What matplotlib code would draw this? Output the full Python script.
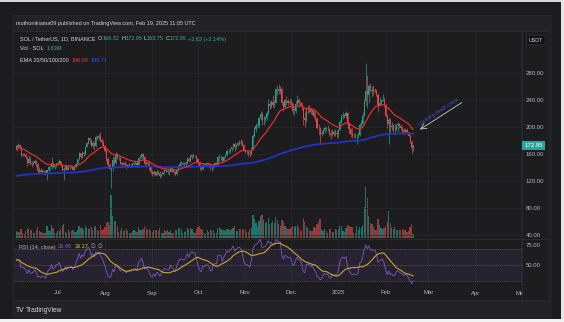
import matplotlib
matplotlib.use("Agg")
import matplotlib.pyplot as plt
from matplotlib.patches import Rectangle
from matplotlib.lines import Line2D
import numpy as np
import pandas as pd

plt.rcParams['font.family'] = ['Liberation Sans Narrow', 'Liberation Sans', 'DejaVu Sans']

# SOL/USDT daily candles (Binance), 4 Jun 2024 .. 19 Feb 2025
start_date = '2024-06-04'
first_open = 166
close = [
    # Jun
    172, 173, 171, 159, 160, 159, 155, 147, 153, 146, 145, 147, 150, 145, 135, 136, 133, 135, 133, 130,
    136, 140, 141, 147, 140, 142, 146,
    # Jul
    146, 149, 143, 136, 138, 142, 137, 141, 140, 141, 137, 140, 145, 152, 161, 155, 162, 160, 171, 176,
    183, 180, 172, 177, 172, 185, 184, 186, 181, 178, 172,
    # Aug
    165, 153, 143, 138, 140, 151, 146, 160, 154, 154, 145, 147, 146, 144, 141, 143, 144, 143, 145, 146,
    146, 144, 154, 156, 160, 155, 145, 147, 145, 140, 133,
    # Sep
    130, 134, 129, 134, 132, 127, 130, 133, 136, 135, 134, 134, 139, 136, 134, 131, 136, 142, 145, 146,
    145, 145, 147, 153, 150, 156, 158, 157, 157, 152,
    # Oct
    146, 140, 138, 144, 143, 145, 145, 144, 139, 139, 144, 146, 145, 155, 155, 155, 150, 156, 159, 165,
    164, 167, 170, 175, 171, 174, 177, 178, 177, 174, 166,
    # Nov
    163, 163, 162, 160, 168, 187, 197, 201, 203, 213, 219, 210, 211, 213, 220, 234, 231, 237, 233, 236,
    256, 256, 253, 256, 236, 230, 240, 239, 236, 237,
    # Dec
    235, 224, 224, 234, 240, 236, 235, 229, 213, 210, 226, 227, 226, 222, 224, 216, 212, 199, 198, 190,
    191, 196, 199, 197, 197, 190, 188, 193, 189, 191, 189,
    # Jan
    196, 208, 216, 218, 216, 220, 204, 197, 190, 186, 187, 186, 186, 188, 203, 204, 216, 238, 254, 248,
    261, 255, 253, 255, 254, 248, 233, 236, 239, 240, 233,
    # Feb
    217, 204, 211, 200, 202, 195, 196, 203, 204, 201, 199, 196, 193, 195, 192, 187, 178, 169.32, 172.95,
]
high = [
    174, 176, 175, 172, 162, 162, 161, 156, 158, 155, 149, 150, 152, 151, 146, 140, 139, 138, 137, 136,
    137, 142, 143, 155, 148, 143, 147,
    149, 152, 150, 144, 140, 144, 142, 143, 142, 144, 142, 141, 146, 153, 163, 162, 164, 164, 172, 178,
    184, 185, 181, 179, 178, 186, 188, 190, 193, 183, 180,
    174, 167, 155, 147, 141, 157, 155, 163, 162, 157, 156, 150, 148, 149, 146, 145, 146, 146, 147, 148,
    150, 149, 156, 158, 162, 161, 157, 150, 150, 148, 141,
    136, 136, 135, 136, 137, 135, 132, 134, 137, 138, 139, 136, 141, 141, 137, 135, 138, 144, 149, 150,
    148, 148, 149, 155, 156, 158, 160, 160, 158, 158,
    154, 149, 143, 145, 145, 146, 148, 148, 145, 142, 145, 148, 147, 157, 160, 158, 156, 157, 160, 167,
    168, 169, 171, 177, 178, 175, 178, 181, 182, 180, 175,
    168, 165, 166, 164, 171, 190, 200, 206, 207, 215, 224, 222, 216, 217, 224, 241, 238, 240, 247, 240,
    258, 262, 264, 260, 259, 239, 242, 246, 242, 243,
    242, 236, 230, 238, 247, 243, 239, 237, 230, 222, 228, 232, 233, 229, 226, 226, 222, 215, 205, 200,
    196, 198, 201, 200, 203, 198, 196, 197, 196, 197, 196,
    197, 210, 218, 222, 219, 223, 222, 207, 199, 198, 191, 191, 190, 193, 206, 210, 222, 242, 295, 277,
    263, 265, 260, 262, 258, 257, 250, 245, 242, 249, 245,
    236, 219, 214, 214, 207, 204, 205, 205, 207, 206, 204, 202, 199, 198, 198, 193, 189, 180, 172.95,
]
low = [
    164, 169, 168, 155, 157, 157, 153, 142, 146, 144, 140, 143, 145, 140, 130, 132, 131, 131, 132, 129,
    122, 134, 137, 138, 139, 138, 140,
    143, 145, 141, 135, 122, 136, 136, 136, 138, 139, 136, 136, 139, 144, 151, 152, 154, 157, 158, 170,
    175, 175, 170, 169, 166, 171, 180, 180, 178, 174, 170,
    163, 150, 140, 136, 110, 135, 142, 145, 152, 151, 144, 141, 143, 140, 138, 140, 141, 140, 141, 143,
    143, 141, 143, 152, 153, 152, 144, 140, 142, 136, 131,
    128, 129, 128, 128, 131, 124, 126, 129, 130, 133, 131, 129, 133, 134, 131, 128, 129, 135, 140, 142,
    143, 141, 141, 145, 148, 148, 153, 154, 155, 148,
    141, 137, 135, 136, 141, 142, 143, 141, 137, 135, 138, 142, 143, 144, 150, 151, 148, 149, 154, 157,
    161, 162, 164, 168, 165, 167, 172, 174, 174, 172, 164,
    162, 160, 157, 155, 158, 166, 185, 193, 199, 200, 210, 203, 203, 207, 210, 218, 226, 228, 230, 228,
    235, 247, 249, 249, 233, 223, 228, 233, 232, 233,
    232, 219, 218, 221, 232, 230, 233, 225, 203, 200, 208, 220, 220, 219, 218, 214, 209, 197, 188, 175,
    186, 189, 191, 194, 194, 186, 182, 187, 186, 187, 184,
    185, 195, 206, 212, 213, 213, 200, 190, 185, 183, 183, 183, 175, 184, 186, 198, 203, 216, 233, 228,
    236, 252, 245, 248, 250, 246, 222, 231, 232, 238, 230,
    215, 198, 175, 193, 195, 193, 190, 195, 193, 198, 195, 189, 189, 191, 190, 186, 176, 162, 163.75,
]
# volume in millions of SOL
volume = [
    2.6, 2.4, 2.3, 3.5, 1.8, 1.6, 2.5, 3.6, 3.2, 2.8, 2.9, 1.7, 1.8, 3.0, 4.2, 2.6, 2.3, 1.9, 1.7, 2.0,
    4.5, 2.9, 2.6, 4.8, 3.9, 1.8, 2.0,
    2.7, 2.5, 3.4, 4.3, 5.2, 2.4, 2.0, 3.1, 2.4, 2.6, 2.8, 2.4, 2.1, 3.0, 4.6, 3.9, 3.6, 3.0, 4.5, 3.7,
    3.3, 3.8, 4.0, 3.1, 4.2, 4.4, 2.9, 2.7, 4.8, 3.1, 3.4,
    4.2, 5.5, 5.8, 5.0, 16.0, 8.0, 6.2, 6.5, 4.4, 2.3, 2.7, 3.6, 2.5, 2.8, 3.4, 2.6, 1.7, 1.8, 2.6, 3.0,
    2.5, 2.4, 4.1, 3.0, 2.9, 3.2, 4.6, 3.9, 2.8, 3.3, 2.6,
    2.4, 3.0, 2.8, 3.0, 2.7, 3.8, 1.8, 2.0, 2.9, 2.6, 2.8, 2.3, 3.0, 2.0, 1.9, 2.8, 3.0, 3.6, 3.9, 3.2,
    2.0, 2.1, 2.6, 3.7, 3.4, 3.9, 3.5, 2.3, 1.9, 3.3,
    4.1, 4.3, 3.5, 2.9, 1.7, 1.6, 2.8, 2.4, 2.9, 3.1, 3.0, 1.8, 1.7, 3.9, 4.0, 3.3, 2.9, 3.1, 2.6, 3.2,
    3.5, 3.1, 3.2, 3.9, 4.3, 2.6, 2.7, 3.5, 3.3, 3.0, 3.4,
    3.0, 2.2, 2.4, 3.3, 3.6, 8.5, 7.0, 5.6, 4.1, 6.4, 8.2, 8.6, 6.8, 5.6, 6.0, 7.5, 5.1, 5.6, 6.5, 5.4,
    7.9, 6.6, 5.3, 4.4, 6.8, 5.9, 4.6, 3.8, 3.5, 3.2,
    3.6, 4.6, 4.0, 4.4, 5.0, 4.1, 2.6, 2.8, 7.4, 6.0, 4.5, 3.6, 3.0, 2.6, 2.5, 4.0, 3.8, 5.3, 6.1, 7.0,
    3.4, 2.6, 3.2, 2.6, 2.0, 3.5, 3.4, 2.3, 2.1, 3.2, 2.8,
    3.2, 4.6, 4.3, 2.6, 2.3, 3.8, 5.0, 4.3, 4.1, 4.2, 2.0, 1.9, 4.5, 3.1, 4.2, 3.6, 5.0, 11.5, 19.0, 15.0,
    8.0, 5.5, 5.2, 4.2, 2.8, 3.1, 7.0, 4.8, 3.6, 3.5, 3.7,
    4.5, 6.0, 10.0, 5.6, 3.9, 3.4, 4.0, 2.8, 3.0, 3.1, 3.0, 3.3, 3.0, 2.8, 2.3, 2.6, 4.1, 5.2, 1.63,
]

# indicator starting values carried in from before the window
ema20_start = 168
ema200_start = 127
rsi_gain_start, rsi_loss_start = 3.0, 2.7

price_ticks = [40, 80, 120, 160, 200, 240, 280]
rsi_ticks = [50, 75]
month_dates = ['2024-07-01', '2024-08-01', '2024-09-01', '2024-10-01', '2024-11-01', '2024-12-01',
               '2025-01-01', '2025-02-01', '2025-03-01', '2025-04-01', '2025-05-01']
month_labels = ['Jul', 'Aug', 'Sep', 'Oct', 'Nov', 'Dec', '2025', 'Feb', 'Mar', 'Apr', 'May']

close = np.array(close, float)
high = np.array(high, float)
low = np.array(low, float)
volume = np.array(volume, float)
opens = np.r_[first_open, close[:-1]]
dates = pd.date_range(start_date, periods=len(close), freq='D')


def ema(values, n, seed):
    a = 2 / (n + 1)
    out, e = [], seed
    for v in values:
        e += a * (v - e)
        out.append(e)
    return np.array(out)


ema20 = ema(close, 20, ema20_start)
ema200 = ema(close, 200, ema200_start)

# Wilder RSI(14) + its 14-period SMA
g, l = rsi_gain_start, rsi_loss_start
rsi = []
for ch in close - opens:
    g = (g * 13 + max(ch, 0)) / 14
    l = (l * 13 + max(-ch, 0)) / 14
    rsi.append(100 - 100 / (1 + g / l))
rsi = np.array(rsi)
rsi_ma = pd.Series(rsi).rolling(14, min_periods=1).mean().values

UP, DOWN = '#22a08c', '#e54545'
VUP, VDOWN = '#1d746a', '#923939'
TXT = '#b2b5be'
GRID = '#27282b'

W, H = 564, 322
fig = plt.figure(figsize=(W / 100, H / 100), dpi=100)
fig.patch.set_facecolor('#1b1c1f')


def px(x0, y0, x1, y1):
    return [x0 / W, 1 - y1 / H, (x1 - x0) / W, (y1 - y0) / H]


def block(x0, y0, x1, y1, color):
    fig.add_artist(Rectangle((x0 / W, 1 - y1 / H), (x1 - x0) / W, (y1 - y0) / H,
                             transform=fig.transFigure, color=color, lw=0, zorder=-5))


def hline(x0, x1, y, color):
    fig.add_artist(Line2D([x0 / W, x1 / W], [1 - y / H] * 2, color=color, lw=0.6, zorder=-4))


def vline(x, y0, y1, color):
    fig.add_artist(Line2D([x / W] * 2, [1 - y0 / H, 1 - y1 / H], color=color, lw=0.6, zorder=-4))


block(12, 15, 552, 319, '#222326')
block(14, 31, 548, 300, '#1d1d1f')
block(0, 0, 564, 2, '#d8d8d8')
block(561, 0, 564, 322, '#e6e6e6')
block(0, 319, 564, 322, '#f2f2f2')
hline(14, 548, 31, '#2c2d31')
hline(14, 548, 238.5, '#2c2d31')
hline(14, 548, 300, '#2c2d31')
vline(522, 31, 300, '#2c2d31')

axv = fig.add_axes(px(14, 31, 522, 238))
ax = fig.add_axes(px(14, 31, 522, 238), sharex=axv)
axr = fig.add_axes(px(14, 239, 522, 286), sharex=axv)
axt = fig.add_axes(px(14, 286, 522, 300), sharex=axv)
axv.set_zorder(0)
ax.set_zorder(1)
for a in (axv, ax, axr, axt):
    a.set_facecolor('none')
    for s in a.spines.values():
        s.set_visible(False)
    a.tick_params(bottom=False, labelbottom=False, left=False, labelleft=False)

ax.set_xlim(dates[0] - pd.Timedelta(days=1.64), dates[0] + pd.Timedelta(days=331.4))

# month grid
for d in month_dates:
    axv.axvline(pd.Timestamp(d), color=GRID, lw=0.5, zorder=0)
    axr.axvline(pd.Timestamp(d), color=GRID, lw=0.5, zorder=0)

# volume
up = close >= opens
axv.bar(dates, volume, width=0.8, color=np.where(up, VUP, VDOWN), lw=0, zorder=1)
axv.set_ylim(0, 77)
axv.set_yticks([])

# price candles
ax.set_ylim(35.56, 342.2)
for v in price_ticks:
    ax.axhline(v, color=GRID, lw=0.5, zorder=0)
cols = np.where(up, UP, DOWN)
ax.vlines(dates, low, high, colors=cols, lw=0.5, zorder=2)
ax.bar(dates, np.abs(close - opens), bottom=np.minimum(opens, close), width=0.7,
       color=cols, lw=0, zorder=3)
ax.plot(dates, ema200, color='#2133c2', lw=1.3, zorder=4)
ax.plot(dates, ema20, color='#dc2f2f', lw=0.9, zorder=4)

ax.yaxis.tick_right()
ax.set_yticks(price_ticks)
ax.set_yticklabels([f'{v:.2f}' for v in price_ticks])
ax.tick_params(axis='y', right=False, labelright=True, length=0, pad=2.4,
               labelsize=4.3, labelcolor=TXT)

ax.text(1 + 2.5 / 508, close[-1], f'{close[-1]:.2f}', transform=ax.get_yaxis_transform(),
        color='white', fontsize=4.3, va='center', ha='left',
        bbox=dict(boxstyle='square,pad=0.35', fc='#26a69a', ec='none'))

# death-cross note
tip = dates[-1] + pd.Timedelta(days=4.5)
ax.annotate('', xy=(tip, ema20[-1]), xytext=(dates[-1] + pd.Timedelta(days=32), ema20[-1] + 40),
            arrowprops=dict(arrowstyle='->', color='#c9c9c9', lw=0.6, shrinkA=0, shrinkB=0))
ax.text(dates[-1] + pd.Timedelta(days=16.5), ema20[-1] + 26, 'Looming death cross',
        color='#3a55d6', fontsize=3.6, rotation=33, ha='center', va='center',
        rotation_mode='anchor')

# RSI pane
axr.set_ylim(23.75, 82.5)
axr.axhspan(30, 70, color='#7e57c2', alpha=0.1, lw=0, zorder=0)
for v in (70, 50, 30):
    axr.axhline(v, color='#5d606b', lw=0.5, ls=(0, (1.5, 1.5)), zorder=1)
axr.plot(dates, rsi, color='#7e57c2', lw=0.6, zorder=3)
axr.plot(dates, rsi_ma, color='#c9a52c', lw=0.8, zorder=3)
axr.yaxis.tick_right()
axr.set_yticks(rsi_ticks)
axr.set_yticklabels([f'{v:.2f}' for v in rsi_ticks])
axr.tick_params(axis='y', right=False, labelright=True, length=0, pad=2.4,
                labelsize=4.3, labelcolor=TXT)

# time axis
axt.set_ylim(0, 1)
axt.set_yticks([])
for d, lab in zip(month_dates, month_labels):
    axt.text(pd.Timestamp(d), 0.5, lab, color=TXT, fontsize=4.3, ha='center', va='center',
             clip_on=True)

# header and legends
renderer = fig.canvas.get_renderer()


def row(x, y, parts, size=4.0):
    for s, c, gap in parts:
        t = fig.text(x / W, 1 - y / H, s, color=c, fontsize=size, ha='left', va='center')
        x += t.get_window_extent(renderer).width + gap


GREEN = '#2bb094'
row(16, 24, [('muthonikiama09 published on TradingView.com, Feb 19, 2025 11:05 UTC', '#d1d4dc', 0)])
row(20, 39, [('SOL / TetherUS, 1D, BINANCE', '#d1d4dc', 2.5),
             ('O', '#d1d4dc', 0), ('169.32', GREEN, 2),
             ('H', '#d1d4dc', 0), ('172.95', GREEN, 2),
             ('L', '#d1d4dc', 0), ('163.75', GREEN, 2),
             ('C', '#d1d4dc', 0), ('172.95', GREEN, 2),
             ('+3.63 (+2.14%)', GREEN, 0)], size=3.95)
row(20, 49, [('Vol · SOL', '#d1d4dc', 2.5), ('1.63M', GREEN, 0)])
row(20, 60, [('EMA 20/50/100/200', '#d1d4dc', 2.5), ('196.09', '#f23645', 2.5),
             ('189.71', '#2f4ff0', 0)])
row(19, 247, [('RSI (14, close)', '#b2b5be', 2.5), ('33.45', '#8a63d2', 2.5),
              ('39.17', '#e8c32a', 2.5), ('∅', '#b2b5be', 2), ('∅', '#b2b5be', 0)], size=4.0)

fig.text(536 / W, 1 - 40 / H, 'USDT', color='#d1d4dc', fontsize=3.8, ha='center', va='center',
         bbox=dict(boxstyle='round,pad=0.45,rounding_size=0.3', fc='#121316', ec='#33363d', lw=0.5))

row(16, 311, [('TV', '#e0e3eb', 1.5), ('TradingView', '#d1d4dc', 0)], size=4.8)

fig.savefig('out.png', dpi=100, facecolor=fig.get_facecolor())
